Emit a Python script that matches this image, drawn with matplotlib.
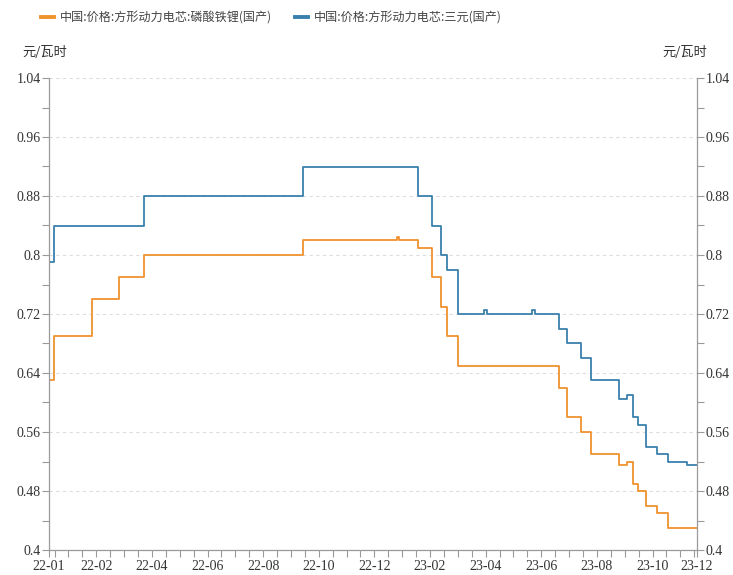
import numpy as np
import pandas as pd
import matplotlib
matplotlib.use("Agg")
import matplotlib.pyplot as plt
import matplotlib.dates as mdates
from matplotlib.ticker import MultipleLocator, FuncFormatter

plt.rcParams['font.family'] = ['Liberation Serif', 'Noto Sans CJK SC', 'DejaVu Sans']

# 磷酸铁锂 price change points (元/瓦时)
lfp_dates = ["2022-01-01", "2022-01-06", "2022-02-16", "2022-03-17", "2022-04-13",
             "2022-10-02", "2023-01-11", "2023-01-14", "2023-02-03", "2023-02-18",
             "2023-02-28", "2023-03-06", "2023-03-18", "2023-07-05", "2023-07-14",
             "2023-07-29", "2023-08-09", "2023-09-08", "2023-09-17", "2023-09-23",
             "2023-09-28", "2023-10-07", "2023-10-19", "2023-10-31", "2023-12-01"]
lfp_vals = [0.63, 0.69, 0.74, 0.77, 0.80,
            0.82, 0.825, 0.82, 0.81, 0.77,
            0.73, 0.69, 0.65, 0.62, 0.58,
            0.56, 0.53, 0.515, 0.52, 0.49,
            0.48, 0.46, 0.45, 0.43, 0.43]

# 三元 price change points
ncm_dates = ["2022-01-01", "2022-01-06", "2022-04-13", "2022-10-02", "2023-02-03",
             "2023-02-18", "2023-02-28", "2023-03-06", "2023-03-18", "2023-04-15",
             "2023-04-18", "2023-06-06", "2023-06-09", "2023-07-05", "2023-07-14",
             "2023-07-29", "2023-08-09", "2023-09-08", "2023-09-17", "2023-09-23",
             "2023-09-28", "2023-10-07", "2023-10-19", "2023-10-31", "2023-11-20",
             "2023-12-01"]
ncm_vals = [0.79, 0.84, 0.88, 0.92, 0.88,
            0.84, 0.80, 0.78, 0.72, 0.725,
            0.72, 0.725, 0.72, 0.70, 0.68,
            0.66, 0.63, 0.605, 0.61, 0.58,
            0.57, 0.54, 0.53, 0.52, 0.515,
            0.515]

lfp_name = "中国:价格:方形动力电芯:磷酸铁锂(国产)"
ncm_name = "中国:价格:方形动力电芯:三元(国产)"
unit = "元/瓦时"

xlab_dates = ["2022-01-01", "2022-02-21", "2022-04-22", "2022-06-21", "2022-08-20",
              "2022-10-19", "2022-12-18", "2023-02-16", "2023-04-17", "2023-06-16",
              "2023-08-15", "2023-10-14", "2023-12-01"]
xlab_text = ["22-01", "22-02", "22-04", "22-06", "22-08", "22-10", "22-12",
             "23-02", "23-04", "23-06", "23-08", "23-10", "23-12"]

orange = "#F0922E"
blue = "#3A80AD"
axcol = "#9a9a9a"
txtcol = "#333333"

fig = plt.figure(figsize=(7.33, 5.75), dpi=100)
ax = fig.add_axes([49 / 733, 1 - 550 / 575, 648 / 733, 472 / 575])

ax.plot(pd.to_datetime(lfp_dates), lfp_vals, drawstyle='steps-post', color=orange, lw=1.3)
ax.plot(pd.to_datetime(ncm_dates), ncm_vals, drawstyle='steps-post', color=blue, lw=1.3)

ax.set_xlim(pd.Timestamp("2022-01-01"), pd.Timestamp("2023-12-01"))
ax.set_ylim(0.4, 1.04)

# y axis, labels on both sides
ax.yaxis.set_major_locator(MultipleLocator(0.08))
ax.yaxis.set_minor_locator(MultipleLocator(0.04))
ax.yaxis.set_major_formatter(FuncFormatter(lambda v, p: "%g" % round(v, 2)))
ax.tick_params(axis='y', which='both', left=True, right=True, labelleft=True, labelright=True,
               direction='out', length=5, width=0.8, color=axcol, labelsize=10,
               labelcolor=txtcol, pad=1)
ax.grid(axis='y', which='major', color='#dddddd', ls=(0, (3, 3)), lw=0.8)

# x axis ticks: every 15 days, labels on a subset
minor = pd.date_range("2022-01-07", "2023-11-30", freq="15D")
ax.set_xticks(list(minor) + [pd.Timestamp("2023-12-01")], minor=True)
ax.set_xticks(pd.to_datetime(xlab_dates))
ax.set_xticklabels(xlab_text)
ax.tick_params(axis='x', which='both', direction='out', length=5, width=0.8,
               color=axcol, labelsize=10, labelcolor=txtcol, pad=2)

for s in ['left', 'right', 'bottom']:
    ax.spines[s].set_color(axcol)
    ax.spines[s].set_linewidth(0.9)
ax.spines['top'].set_visible(False)

fig.text(22 / 733, 1 - 53 / 575, unit, fontsize=9.5, color=txtcol, va='center',
         ha='left', family=['Noto Sans CJK SC'])
fig.text(707 / 733, 1 - 53 / 575, unit, fontsize=9.5, color=txtcol, va='center',
         ha='right', family=['Noto Sans CJK SC'])

leg = fig.legend(handles=ax.lines, labels=[lfp_name, ncm_name], loc='center left',
                 bbox_to_anchor=(30 / 733, 1 - 18 / 575), ncol=2, frameon=False,
                 prop={'family': ['Noto Sans CJK SC'], 'size': 8.7},
                 handlelength=1.1, handletextpad=0.45, columnspacing=1.9)
for t in leg.get_texts():
    t.set_color('#444444')
for h in leg.legend_handles:
    h.set_linewidth(2.8)

fig.savefig("out.png", dpi=100)
